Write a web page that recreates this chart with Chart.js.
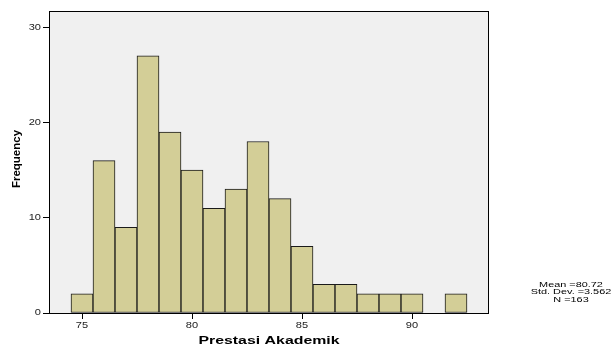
<!DOCTYPE html>
<html>
<head>
<meta charset="utf-8">
<script src="https://cdn.jsdelivr.net/npm/chart.js@4/dist/chart.umd.min.js"></script>
<style>
  html, body { margin: 0; padding: 0; background: #fff; }
  #wrap { width: 612px; height: 347px; }
</style>
</head>
<body>
<div id="wrap"><canvas id="myChart" width="612" height="347"></canvas></div>
<script>
// histogram bins (centres) and counts
const bins = [75, 76, 77, 78, 79, 80, 81, 82, 83, 84, 85, 86, 87, 88, 89, 90, 91, 92];
const counts = [2, 16, 9, 27, 19, 15, 11, 13, 18, 12, 7, 3, 3, 2, 2, 2, 0, 2];
const xTicks = [75, 80, 85, 90];
const yTicks = [0, 10, 20, 30];
const statsLines = ["Mean =80.72", "Std. Dev. =3.562", "N =163"];
const xTitle = "Prestasi Akademik";
const yTitle = "Frequency";

const FONT = '"Liberation Sans", Arial, sans-serif';

function wideText(ctx, txt, x, y, font, align, sx) {
  ctx.save();
  ctx.translate(x, y);
  ctx.scale(sx, 1);
  ctx.font = font;
  ctx.textAlign = align;
  ctx.textBaseline = 'middle';
  ctx.fillText(txt, 0, 0);
  ctx.restore();
}

const spssLook = {
  id: 'spssLook',
  beforeDatasetsDraw(chart) {
    const {ctx, chartArea: a} = chart;
    ctx.save();
    ctx.fillStyle = '#f0f0f0';
    ctx.fillRect(a.left, a.top, a.right - a.left, a.bottom - a.top);
    ctx.restore();
  },
  afterDraw(chart) {
    const {ctx, chartArea: a, scales} = chart;
    ctx.save();
    ctx.strokeStyle = '#000';
    ctx.lineWidth = 1;
    ctx.strokeRect(a.left + 0.5, a.top + 0.5, a.right - a.left - 1, a.bottom - a.top);

    ctx.fillStyle = '#222';
    xTicks.forEach(v => {
      wideText(ctx, String(v), scales.x.getPixelForValue(v), 326, '8.5px ' + FONT, 'center', 1.3);
    });
    yTicks.forEach(v => {
      wideText(ctx, String(v), 41, scales.y.getPixelForValue(v), '8.5px ' + FONT, 'right', 1.3);
    });

    ctx.fillStyle = '#000';
    wideText(ctx, xTitle, (a.left + a.right) / 2, 341, 'bold 11.5px ' + FONT, 'center', 1.38);

    ctx.save();
    ctx.translate(17, (a.top + a.bottom) / 2 - 3);
    ctx.rotate(-Math.PI / 2);
    ctx.font = 'bold 11.5px ' + FONT;
    ctx.textAlign = 'center';
    ctx.textBaseline = 'middle';
    ctx.fillText(yTitle, 0, 0);
    ctx.restore();

    statsLines.forEach((s, i) => {
      wideText(ctx, s, 571, 284.5 + i * 7.5, '7.5px ' + FONT, 'center', 1.45);
    });
    ctx.restore();
  }
};

const ctx = document.getElementById('myChart');

new Chart(ctx, {
  type: 'bar',
  data: {
    datasets: [{
      label: 'Frequency',
      data: bins.map((b, i) => ({x: b, y: counts[i]})),
      backgroundColor: 'rgb(211,206,151)',
      borderColor: '#1a1a1a',
      borderWidth: 1,
      borderSkipped: false,
      barPercentage: 1,
      categoryPercentage: 1
    }]
  },
  options: {
    responsive: false,
    animation: false,
    layout: { padding: { left: 0, top: 11, right: 123, bottom: 0 } },
    plugins: { legend: { display: false }, tooltip: { enabled: false } },
    scales: {
      x: {
        type: 'linear',
        min: 73.5,
        max: 93.5,
        offset: false,
        afterBuildTicks: s => { s.ticks = xTicks.map(v => ({value: v})); },
        afterFit: s => { s.height = 34; },
        ticks: { display: false },
        grid: { offset: false, drawOnChartArea: false, drawTicks: true, tickLength: 6, color: '#000' },
        border: { display: false }
      },
      y: {
        min: 0,
        max: 31.7,
        afterBuildTicks: s => { s.ticks = yTicks.map(v => ({value: v})); },
        afterFit: s => { s.width = 49; },
        ticks: { display: false },
        grid: { drawOnChartArea: false, drawTicks: true, tickLength: 6, color: '#000' },
        border: { display: false }
      }
    }
  },
  plugins: [spssLook]
});
</script>
</body>
</html>
